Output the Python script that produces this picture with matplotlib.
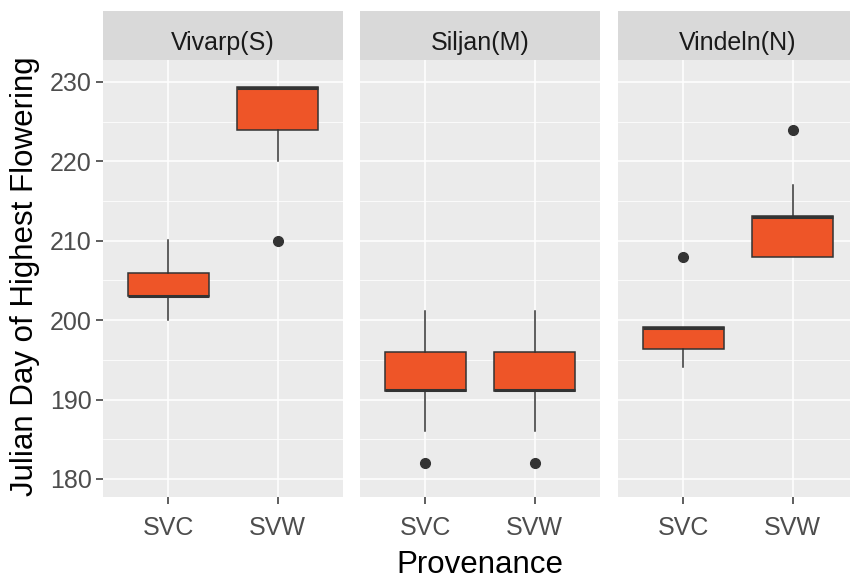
import matplotlib.pyplot as plt

plt.rcParams['font.family'] = ['Liberation Sans', 'DejaVu Sans']

sites = ["Vivarp(S)", "Siljan(M)", "Vindeln(N)"]
provenances = ["SVC", "SVW"]

# one row per site, values for [SVC, SVW]
q1 = [[203.0, 224.0], [191.1, 191.1], [196.4, 208.0]]
medians = [[203.0, 229.3], [191.2, 191.2], [199.0, 213.0]]
q3 = [[205.9, 229.4], [196.0, 196.0], [199.1, 213.1]]
whislo = [[200.0, 220.0], [186.1, 186.1], [194.1, 208.0]]
whishi = [[210.1, 229.4], [201.1, 201.1], [199.1, 217.0]]
outliers = [[[], [210.0]], [[182.0], [182.0]], [[208.0], [224.0]]]

fill = "#EE5528"
dark = "#333333"

W, H = 850, 579
fig = plt.figure(figsize=(W / 100, H / 100), dpi=100)

panel_left = [103, 360, 618]
panel_w = 240
panel_top, panel_bot = 60, 497
strip_top = 11

for i, site in enumerate(sites):
    ax = fig.add_axes([panel_left[i] / W, 1 - panel_bot / H,
                       panel_w / W, (panel_bot - panel_top) / H])
    stats = []
    for j in range(len(provenances)):
        stats.append(dict(q1=q1[i][j], med=medians[i][j], q3=q3[i][j],
                          whislo=whislo[i][j], whishi=whishi[i][j],
                          fliers=outliers[i][j]))
    ax.bxp(stats, positions=[1, 2], widths=0.75, patch_artist=True,
           showcaps=False,
           boxprops=dict(facecolor=fill, edgecolor=dark, linewidth=1.1),
           medianprops=dict(color=dark, linewidth=2.2, solid_capstyle='butt'),
           whiskerprops=dict(color=dark, linewidth=1.1),
           flierprops=dict(marker='o', markerfacecolor=dark,
                           markeredgecolor=dark, markersize=7))

    ax.set_xlim(0.4, 2.6)
    ax.set_ylim(177.73, 232.77)
    ax.set_xticks([1, 2])
    ax.set_xticklabels(provenances)
    ax.set_yticks([180, 190, 200, 210, 220, 230])
    ax.set_yticks([185, 195, 205, 215, 225], minor=True)
    ax.set_facecolor("#EBEBEB")
    for s in ax.spines.values():
        s.set_visible(False)
    ax.set_axisbelow(True)
    ax.grid(which='major', color='white', linewidth=1.1)
    ax.grid(which='minor', axis='y', color='white', linewidth=0.55)
    ax.tick_params(which='minor', length=0)
    ax.tick_params(axis='x', length=5, width=1.1, color=dark,
                   labelsize=18, labelcolor="#4D4D4D", pad=9)
    if i == 0:
        ax.tick_params(axis='y', length=5, width=1.1, color=dark,
                       labelsize=18, labelcolor="#4D4D4D", pad=3)
    else:
        ax.tick_params(axis='y', length=0, labelleft=False)

    # facet strip
    sax = fig.add_axes([panel_left[i] / W, 1 - panel_top / H,
                        panel_w / W, (panel_top - strip_top) / H])
    sax.set_facecolor("#D9D9D9")
    sax.set_xticks([])
    sax.set_yticks([])
    for s in sax.spines.values():
        s.set_visible(False)
    sax.text(0.5, 10 / (panel_top - strip_top), site, ha='center',
             va='baseline', fontsize=18, color="#1A1A1A",
             transform=sax.transAxes)

fig.text(480 / W, 1 - 573 / H, "Provenance", ha='center', va='baseline',
         fontsize=22.5)
fig.text(33 / W, 1 - 276 / H, "Julian Day of Highest Flowering",
         ha='center', va='baseline', rotation=90, rotation_mode='anchor',
         fontsize=22.5)

fig.savefig("out.png", dpi=100)
